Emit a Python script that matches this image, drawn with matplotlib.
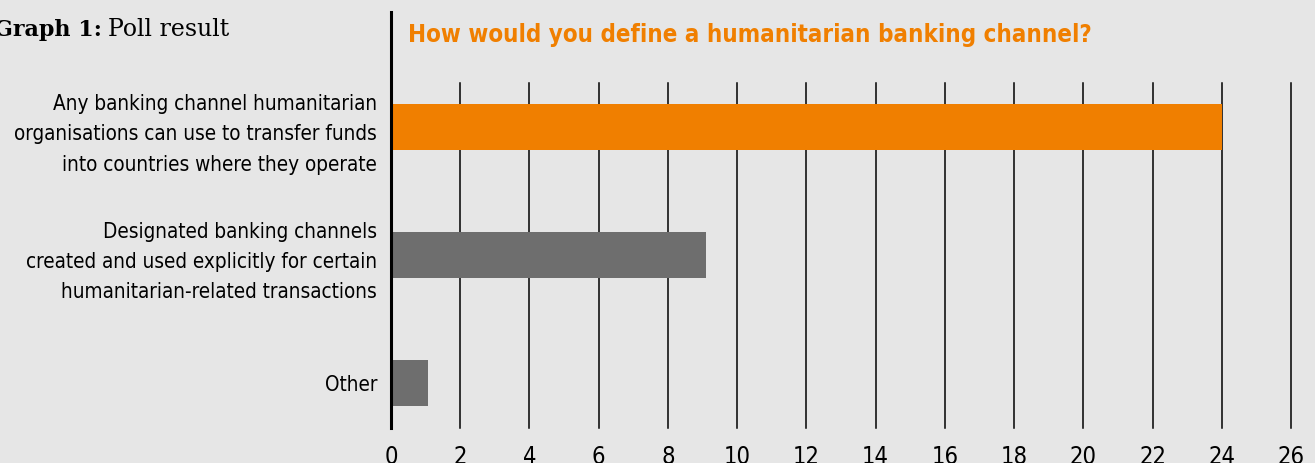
import numpy as np
import matplotlib.pyplot as plt

categories = [
    "Any banking channel humanitarian\norganisations can use to transfer funds\ninto countries where they operate",
    "Designated banking channels\ncreated and used explicitly for certain\nhumanitarian-related transactions",
    "Other",
]
values = [24, 9.1, 1.07]
bar_colors = ["#f07f00", "#6e6e6e", "#6e6e6e"]
xticks = list(range(0, 28, 2))

bg = "#e6e6e6"
fig = plt.figure(figsize=(13.15, 4.63), dpi=100, facecolor=bg)
W, H = 1315, 463
ax = fig.add_axes([391 / W, 1 - 428 / H, 900 / W, 345 / H], facecolor=bg)

y = np.arange(len(categories))
ax.set_xlim(0, 26)
ax.set_ylim(2.355, -0.344)

# vertical grid lines
for t in xticks[1:]:
    ax.axvline(t, color="black", lw=1.1, zorder=1, clip_on=False)

ax.barh(y, values, height=0.36, color=bar_colors, zorder=2)

# left axis line extends up to the title
ax.plot([0, 0], [2.355, -0.9], color="black", lw=2.2, clip_on=False, zorder=3)

for s in ax.spines.values():
    s.set_visible(False)

cond = dict(family="DejaVu Sans", stretch="condensed")
ax.set_xticks(xticks)
ax.set_xticklabels([str(t) for t in xticks], fontsize=17, **cond)
ax.tick_params(axis="x", length=0, pad=12)
ax.set_yticks(y)
ax.set_yticklabels(categories, fontsize=14.9, linespacing=1.65, **cond)
ax.tick_params(axis="y", length=0, pad=10)
for lbl in ax.get_yticklabels():
    lbl.set_horizontalalignment("right")
    lbl.set_multialignment("right")

fig.text(408 / W, 1 - 35 / H, "How would you define a humanitarian banking channel?",
         color="#f07f00", fontsize=17.3, fontweight="bold", va="center", ha="left", **cond)

fig.text(-6 / W, 1 - 30 / H, "Graph 1:", fontsize=16, fontweight="bold",
         family="DejaVu Serif", va="center", ha="left")
fig.text(108 / W, 1 - 30 / H, "Poll result", fontsize=17,
         family="DejaVu Serif", va="center", ha="left")

fig.savefig("out.png", dpi=100, facecolor=bg)
